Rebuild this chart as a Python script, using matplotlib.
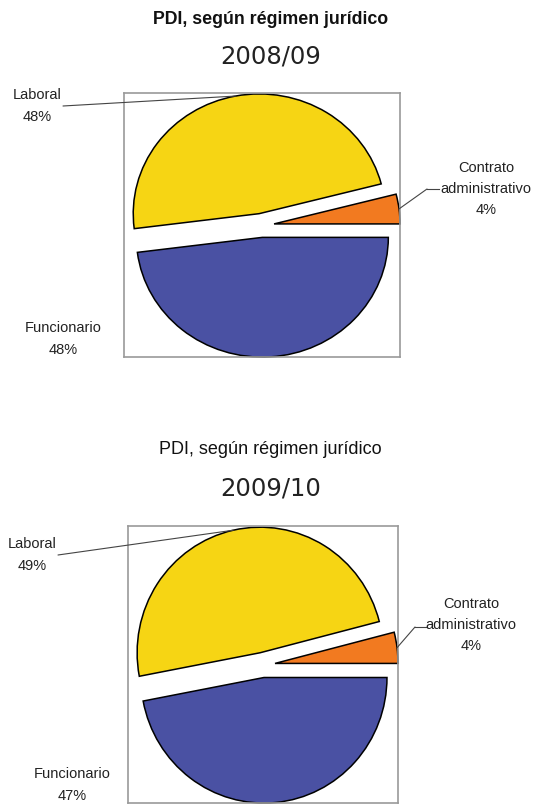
import numpy as np
import matplotlib
matplotlib.use("Agg")
import matplotlib.pyplot as plt
from matplotlib.lines import Line2D

# ---- data ----
categories = ["Contrato\nadministrativo", "Laboral", "Funcionario"]
values_2008 = [4, 48, 48]
values_2009 = [4, 49, 47]
title_main = "PDI, según régimen jurídico"
years = ["2008/09", "2009/10"]
colors = ["#F27A20", "#F6D514", "#4A51A3"]

W, H = 533, 805
fig = plt.figure(figsize=(W / 100, H / 100), dpi=100)

def fx(x):
    return x / W

def fy(y):
    return 1 - y / H

EXPLODE = 0.1

def draw_pie(frame, lims, vals, title_kw, label_kw, label_pos, year_y, title_y, year):
    x0, y0, x1, y1 = frame
    ax = fig.add_axes([fx(x0), fy(y1), fx(x1) - fx(x0), (y1 - y0) / H])
    wedges, _ = ax.pie(vals, startangle=0, counterclock=True, colors=colors,
                       explode=[EXPLODE] * len(vals),
                       wedgeprops=dict(edgecolor="black", linewidth=1.1))
    ax.set_aspect("auto")
    ax.set_xlim(lims[0], lims[1])
    ax.set_ylim(lims[2], lims[3])
    ax.set_frame_on(True)
    for s in ax.spines.values():
        s.set_edgecolor("#9a9a9a")
        s.set_linewidth(1.2)
    ax.set_xticks([])
    ax.set_yticks([])

    fig.text(0.507, fy(title_y), title_main, ha="center", va="center", **title_kw)
    fig.text(0.507, fy(year_y), year, ha="center", va="center",
             fontsize=17.5, family="DejaVu Sans", color="#222222")

    mids = []
    for w in wedges:
        mids.append(np.deg2rad((w.theta1 + w.theta2) / 2))
    for i, (cat, v) in enumerate(zip(categories, vals)):
        lx, ly = label_pos[i]
        fig.text(fx(lx), fy(ly), f"{cat}\n{v}%", ha="center", va="center",
                 linespacing=1.68, color="#222222", **label_kw)
    return ax, mids

def leader(ax, ang, text_xy, kink=None):
    anchor = ((1 + EXPLODE) * np.cos(ang), (1 + EXPLODE) * np.sin(ang))
    tx, ty = text_xy
    ax.annotate("", xy=anchor, xycoords="data",
                xytext=(tx, H - ty), textcoords="figure pixels",
                arrowprops=dict(arrowstyle="-", color="#444444", lw=0.8,
                                shrinkA=0, shrinkB=0))
    if kink is not None:
        fig.add_artist(Line2D([fx(tx), fx(kink)], [fy(ty), fy(ty)],
                              color="#444444", lw=0.8))

# --- chart 1 ---
ax1, mids1 = draw_pie(
    frame=(124, 93, 400, 357),
    lims=(-1.092, 1.099, -1.099, 1.106),
    vals=values_2008,
    title_kw=dict(fontsize=12.8, fontweight="bold", family="Liberation Sans", color="#111111"),
    label_kw=dict(fontsize=10.5, family="Liberation Sans"),
    label_pos=[(486, 189), (37, 106), (63, 339)],
    year_y=56, title_y=19, year=years[0])
leader(ax1, mids1[1], (63, 106))
leader(ax1, mids1[0], (427, 189), kink=439)

# --- chart 2 ---
narrow = ["Liberation Sans Narrow", "Liberation Sans"]
ax2, mids2 = draw_pie(
    frame=(128, 526, 398, 803),
    lims=(-1.096, 1.099, -1.099, 1.107),
    vals=values_2009,
    title_kw=dict(fontsize=13, family=narrow, color="#111111"),
    label_kw=dict(fontsize=10.5, family=narrow),
    label_pos=[(471, 625), (32, 555), (72, 785)],
    year_y=488, title_y=450, year=years[1])
leader(ax2, mids2[1], (58, 555))
leader(ax2, mids2[0], (415, 627), kink=427)

fig.savefig("out.png", dpi=100, facecolor="white")
